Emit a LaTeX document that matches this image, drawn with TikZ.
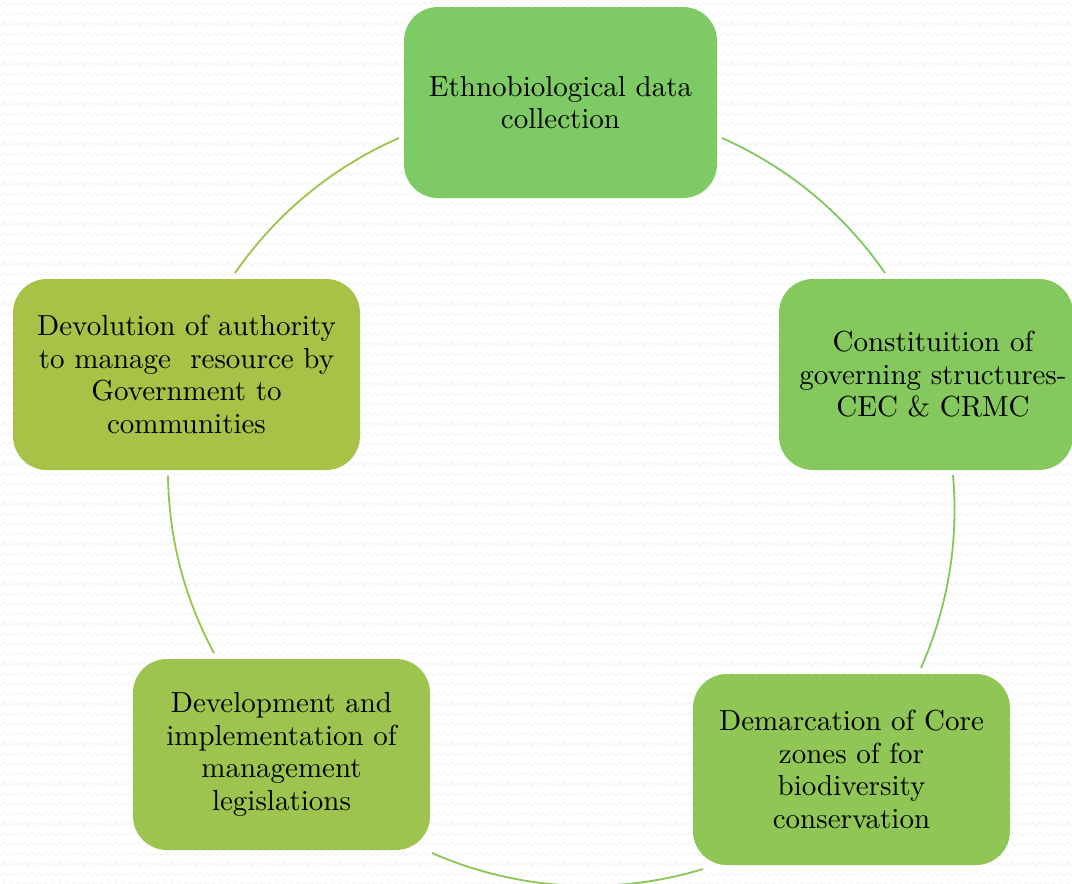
\documentclass[tikz,border=0pt]{standalone}
\usepackage{fontspec}
\setmainfont{lmroman10-regular.otf}
\usetikzlibrary{decorations.pathmorphing}
\definecolor{cA}{RGB}{126,203,102}
\definecolor{cB}{RGB}{133,200,93}
\definecolor{cC}{RGB}{143,198,85}
\definecolor{cD}{RGB}{157,196,78}
\definecolor{cE}{RGB}{168,194,72}
\definecolor{lA}{RGB}{124,200,98}
\definecolor{lB}{RGB}{130,199,92}
\definecolor{lC}{RGB}{140,197,84}
\definecolor{lD}{RGB}{152,196,78}
\definecolor{lE}{RGB}{160,195,74}
\definecolor{bgz}{RGB}{243,243,243}
\tikzset{
  box/.style={draw=none, rounded corners=34pt, align=center, inner sep=0pt,
    font=\fontsize{29}{32.5}\selectfont, minimum height=191pt},
  link/.style={line width=1.8pt, bend left=#1, looseness=0.88},
  bgline/.style={draw=bgz, line width=0.9pt, decorate,
    decoration={zigzag, segment length=7pt, amplitude=1.6pt}}
}
\begin{document}
\begin{tikzpicture}[x=1pt,y=1pt]
\useasboundingbox (0,0) rectangle (1072,-884);
\fill[white] (0,0) rectangle (1072,-884);
\begin{scope}
\clip (0,0) rectangle (1072,-884);
\foreach \r in {0,...,88} {
  \draw[bgline] (-5,-4-10*\r) -- (1080,-4-10*\r);
}
\end{scope}

\node[box, fill=cA, minimum width=313pt] (n1) at (560.5,-102.5) {Ethnobiological data\\collection};
\node[box, fill=cB, minimum width=294pt] (n2) at (926,-374.5) {\hspace*{14pt}Constituition of\\\hspace*{14pt}governing structures-\\\hspace*{14pt}CEC \& CRMC};
\node[box, fill=cC, minimum width=317pt] (n3) at (851.5,-769.5) {Demarcation of Core\\zones of for\\biodiversity\\conservation};
\node[box, fill=cD, minimum width=297pt] (n4) at (281.5,-754.5) {Development and\\implementation of\\management\\legislations};
\node[box, fill=cE, minimum width=347pt] (n5) at (186.5,-374.5) {Devolution of authority\\to manage~ resource by\\Government to\\communities};

\coordinate (a1s) at (722,-138);
\coordinate (a1e) at (885,-273);
\coordinate (a2s) at (953,-475);
\coordinate (a2e) at (921,-668);
\coordinate (a3s) at (703,-869);
\coordinate (a3e) at (432,-853);
\coordinate (a4s) at (214,-653);
\coordinate (a4e) at (168,-476);
\coordinate (a5s) at (235,-273);
\coordinate (a5e) at (399,-138);

\draw[link=15.6, draw=lA] (a1s) to (a1e);
\draw[link=14.3, draw=lB] (a2s) to (a2e);
\draw[link=20.3, draw=lC] (a3s) to (a3e);
\draw[link=13.7, draw=lD] (a4s) to (a4e);
\draw[link=15.7, draw=lE] (a5s) to (a5e);
\end{tikzpicture}
\end{document}
